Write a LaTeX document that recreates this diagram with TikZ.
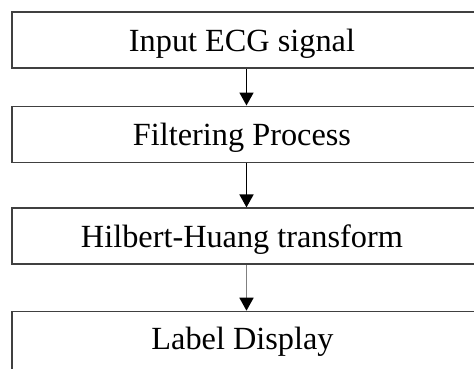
\documentclass[tikz,border=0pt]{standalone}
\usepackage{fontspec}
\setmainfont{Liberation Serif}
\usetikzlibrary{arrows.meta}
\newcommand{\shl}{\hspace*{-12pt}}
\begin{document}
\begin{tikzpicture}[x=1pt,y=-1pt,
  stepbox/.style={draw=black!75,line width=1.6pt,minimum width=472pt,minimum height=56pt,inner sep=0pt,
    text height=22pt,text depth=0pt,font=\fontsize{32.3}{36}\selectfont},
  flow/.style={line width=1.7pt,-{Triangle[width=14pt,length=13pt,black]}}]
\useasboundingbox (0,0) rectangle (474,368);
\node[stepbox] (a) at (248,40.2) {\shl Input ECG signal};
\node[stepbox] (b) at (248,134.3) {\shl Filtering Process};
\node[stepbox] (c) at (248,236.2) {\shl Hilbert-Huang transform};
\node[stepbox,minimum height=90pt,anchor=north] (d) at (248,310.7) {};
\node[text height=22pt,text depth=0pt,inner sep=0pt,font=\fontsize{32.3}{36}\selectfont] (dt) at (242.5,338) {Label Display};
\draw[flow] (a.south -| 246.5,0) -- (b.north -| 246.5,0);
\draw[flow] (b.south -| 246.5,0) -- (c.north -| 246.5,0);
\draw[flow,draw=black!50] (c.south -| 246.5,0) -- (d.north -| 246.5,0);
\end{tikzpicture}
\end{document}
